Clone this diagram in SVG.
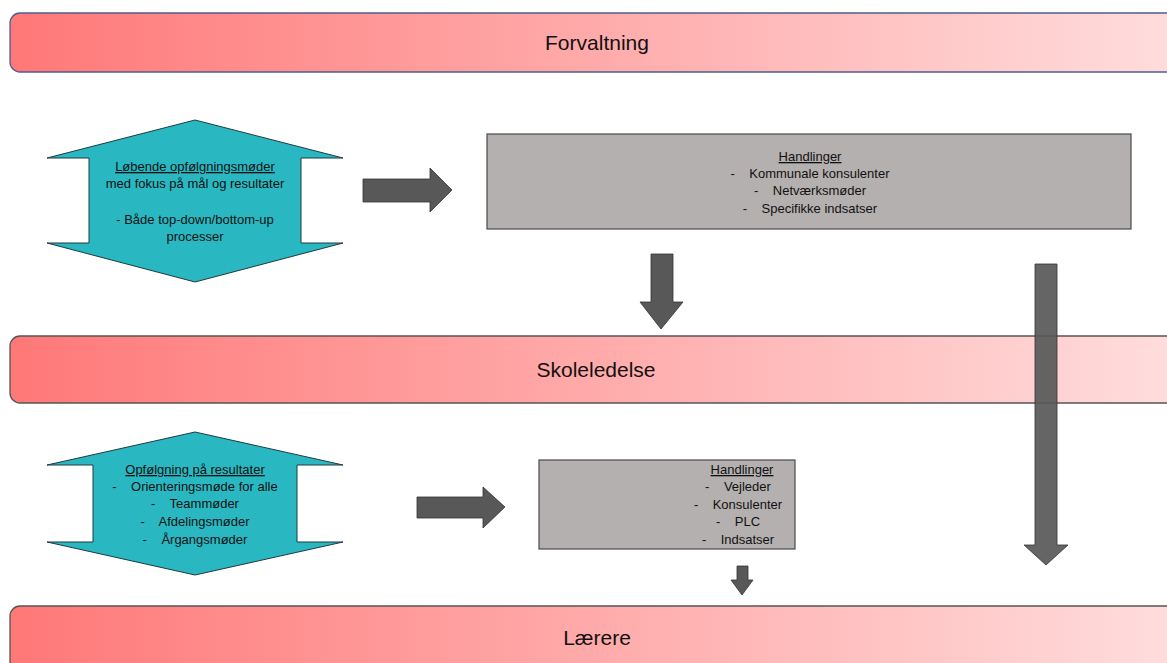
<svg xmlns="http://www.w3.org/2000/svg" width="1167" height="663" viewBox="0 0 1167 663">
<defs>
<linearGradient id="bandGrad" x1="10" y1="0" x2="1167" y2="0" gradientUnits="userSpaceOnUse">
<stop offset="0" stop-color="#ff7878"/>
<stop offset="1" stop-color="#ffdcdc"/>
</linearGradient>
</defs>
<style>
.band{fill:url(#bandGrad);stroke-width:1.3}
.bandText{font-family:"Liberation Sans",Arial,sans-serif;font-size:21px;fill:#111;text-anchor:middle}
.hex{fill:#29b8c1;stroke:#1e3b40;stroke-width:1}
.box{fill:#b4b0af;stroke:#4a4a4a;stroke-width:1.2}
.t{font-family:"Liberation Sans",Arial,sans-serif;font-size:13px;fill:#111;text-anchor:middle}
.u{text-decoration:underline}
.arrow{fill:#585858;stroke:#333;stroke-width:0.8}
</style>
<g id="band-forvaltning">
<rect class="band" x="10" y="13" width="1180" height="59" rx="10" stroke="#4e5d8e"/>
<text class="bandText" x="597" y="50">Forvaltning</text>
</g>
<g id="band-skoleledelse">
<rect class="band" x="10" y="336" width="1180" height="67" rx="10" stroke="#555"/>
<text class="bandText" x="596" y="377">Skoleledelse</text>
</g>
<g id="band-laerere">
<rect class="band" x="10" y="606" width="1180" height="80" rx="10" stroke="#555"/>
<text class="bandText" x="597" y="645">Lærere</text>
</g>
<g id="hex-top">
<polygon class="hex" points="195,120 343,158 301,158 301,243 343,243 195,282 47,243 89,243 89,158 47,158"/>
<text class="t" x="195" y="171"><tspan class="u">Løbende opfølgningsmøder</tspan></text>
<text class="t" x="195" y="188">med fokus på mål og resultater</text>
<text class="t" x="195" y="224">- Både top-down/bottom-up</text>
<text class="t" x="195" y="241">processer</text>
</g>
<g id="box-top">
<rect class="box" x="487" y="134" width="644" height="95"/>
<text class="t" x="810" y="161"><tspan class="u">Handlinger</tspan></text>
<text class="t" x="810" y="178" xml:space="preserve">-    Kommunale konsulenter</text>
<text class="t" x="810" y="195" xml:space="preserve">-    Netværksmøder</text>
<text class="t" x="810" y="213" xml:space="preserve">-    Specifikke indsatser</text>
</g>
<g id="hex-bottom">
<polygon class="hex" points="195,432 343,465 297,465 297,542 343,542 195,575 47,542 93,542 93,465 47,465"/>
<text class="t" x="195" y="474"><tspan class="u">Opfølgning på resultater</tspan></text>
<text class="t" x="195" y="491" xml:space="preserve">-    Orienteringsmøde for alle</text>
<text class="t" x="195" y="508" xml:space="preserve">-    Teammøder</text>
<text class="t" x="195" y="526" xml:space="preserve">-    Afdelingsmøder</text>
<text class="t" x="195" y="544" xml:space="preserve">-    Årgangsmøder</text>
</g>
<g id="box-bottom">
<rect class="box" x="539" y="460" width="256" height="89"/>
<text class="t" x="742" y="474"><tspan class="u">Handlinger</tspan></text>
<text class="t" x="738" y="491" xml:space="preserve">-    Vejleder</text>
<text class="t" x="738" y="509" xml:space="preserve">-    Konsulenter</text>
<text class="t" x="738" y="526" xml:space="preserve">-    PLC</text>
<text class="t" x="738" y="544" xml:space="preserve">-    Indsatser</text>
</g>
<g id="connectors">
<polygon class="arrow" points="363,179 430,179 430,168 452,190 430,212 430,202 363,202"/>
<polygon class="arrow" points="651,254 673,254 673,302 683,302 661,329 640,302 651,302"/>
<polygon class="arrow" points="417,497 483,497 483,487 505,507 483,528 483,518 417,518"/>
<polygon class="arrow" points="737,566 748,566 748,580 753,580 742,595 731,580 737,580"/>
<polygon class="arrow" points="1035,264 1057,264 1057,545 1068,545 1046,565 1024,545 1035,545" fill-opacity="0.92"/>
</g>
</svg>
